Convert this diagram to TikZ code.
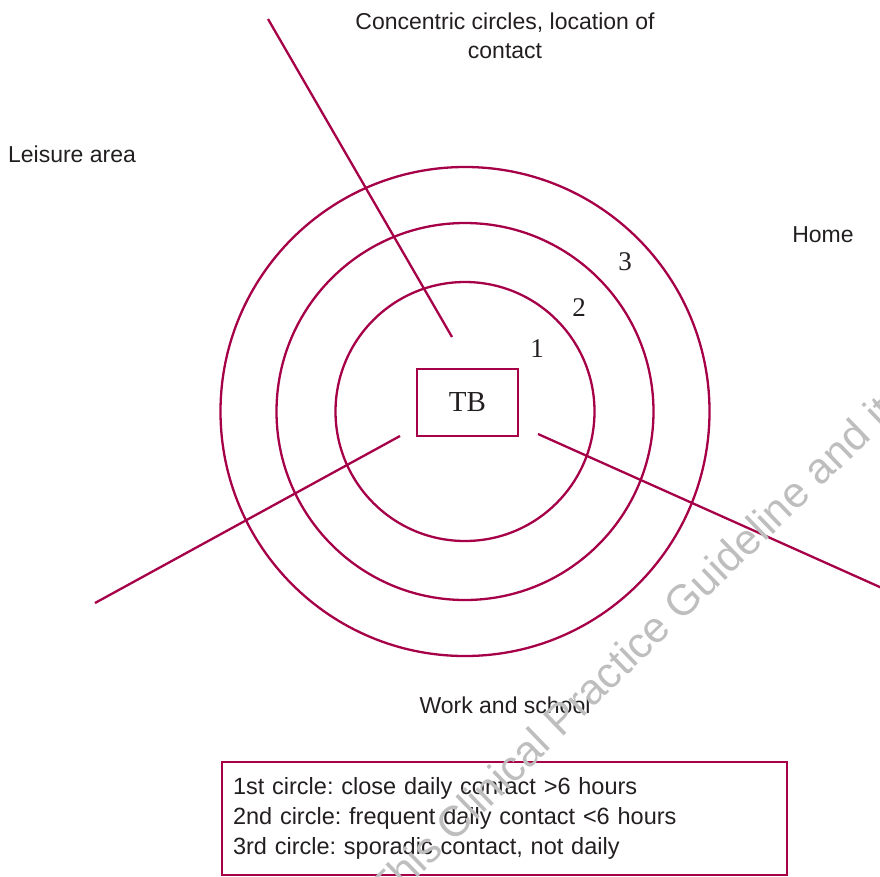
\documentclass[tikz,border=0pt]{standalone}
\usepackage{fontspec}
\setmainfont{Liberation Sans}
\newfontfamily\serifnum{Liberation Serif}
\definecolor{crim}{RGB}{166,0,72}
\definecolor{txt}{RGB}{35,31,32}
\definecolor{wm}{RGB}{190,190,190}
\frenchspacing
\begin{document}
\begin{tikzpicture}[x=1pt,y=-1pt,
  ring/.style={draw=crim,line width=2.3pt},
  spoke/.style={draw=crim,line width=2.3pt},
  lbl/.style={text=txt,font=\fontsize{23}{29}\selectfont,inner sep=0pt,align=center},
  num/.style={text=txt,font=\serifnum\fontsize{27}{30}\selectfont,inner sep=0pt},
  tbbox/.style={draw=crim,line width=2.3pt,text=txt,font=\serifnum\fontsize{29}{32}\selectfont,minimum width=101pt,minimum height=67pt,inner sep=0pt},
  legend/.style={draw=crim,line width=2.3pt,text=txt,font=\fontsize{23.5}{30}\selectfont,minimum width=565pt,minimum height=113pt,text width=543pt,inner xsep=11pt,inner ysep=0pt,align=left}]
\useasboundingbox (0,0) rectangle (880,876);
\clip (0,0) rectangle (880,876);
% circles
\coordinate (c) at (465,411.5);
\draw[ring] (c) circle[radius=129.5pt];
\draw[ring] (c) circle[radius=188.5pt];
\draw[ring] (c) circle[radius=244.5pt];
% TB box
\node[tbbox] (tb) at (467.5,402.5) {TB};
% spokes
\coordinate (s1a) at (452,337);
\coordinate (s1b) at (268,19);
\coordinate (s2a) at (400,436);
\coordinate (s2b) at (95,603);
\coordinate (s3a) at (538,434);
\coordinate (s3b) at (882,588);
\draw[spoke] (s1a) -- (s1b);
\draw[spoke] (s2a) -- (s2b);
\draw[spoke] (s3a) -- (s3b);
% ring numbers
\node[num] (n1) at (537,349) {1};
\node[num] (n2) at (579,308) {2};
\node[num] (n3) at (625,262) {3};
% labels
\node[lbl] (title) at (505,36) {Concentric circles, location of\\contact};
\node[lbl] (leisure) at (72,154) {Leisure area};
\node[lbl] (home) at (823,235) {Home};
\node[lbl] (work) at (505,705) {Work and school};
% legend
\node[legend] (leg) at (504.5,818.5) {1st circle: close daily contact >6 hours\\2nd circle: frequent daily contact <6 hours\\3rd circle: sporadic contact, not daily};
% watermark
\node[text=wm,font=\fontsize{43}{43}\selectfont,rotate=44,anchor=base west,inner sep=0pt] (wmark) at (386,908) {This Clinical Practice Guideline and it};
\end{tikzpicture}
\end{document}
